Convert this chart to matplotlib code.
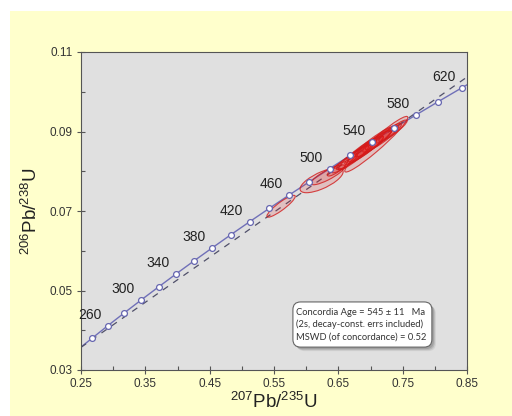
import numpy as np
import matplotlib
matplotlib.use("Agg")
import matplotlib.pyplot as plt
from matplotlib.patches import Ellipse, Rectangle, FancyBboxPatch

plt.rcParams['font.family'] = ['Liberation Sans', 'DejaVu Sans']
plt.rcParams['mathtext.fontset'] = 'custom'
plt.rcParams['mathtext.rm'] = 'Liberation Sans'
plt.rcParams['mathtext.it'] = 'Liberation Sans'

# Concordia ages (Ma) and their ratios
ages = [240, 260, 280, 300, 320, 340, 360, 380, 400, 420, 440, 460, 480, 500,
        520, 540, 560, 580, 600, 620]
pb207_u235 = [0.2667, 0.2918, 0.3175, 0.3437, 0.3705, 0.3977, 0.4255, 0.4539,
              0.4828, 0.5123, 0.5424, 0.5731, 0.6044, 0.6363, 0.6688, 0.7020,
              0.7359, 0.7704, 0.8056, 0.8416]
pb206_u238 = [0.03793, 0.04116, 0.04439, 0.04764, 0.05089, 0.05416, 0.05743,
              0.06072, 0.06402, 0.06732, 0.07064, 0.07397, 0.07730, 0.08065,
              0.08401, 0.08738, 0.09076, 0.09414, 0.09754, 0.10096]
# curve ends at the axis edges
curve_x_ends = [0.25, 0.85]
curve_y_ends = [0.03577, 0.10175]
label_ages = [260, 300, 340, 380, 420, 460, 500, 540, 580, 620]

# dashed reference line
dash_x = [0.25, 0.85]
dash_y = [0.0357, 0.1037]

# data-point error ellipses
ell_x = [0.561, 0.624, 0.634, 0.648, 0.660, 0.672, 0.683, 0.690, 0.698, 0.705,
         0.712, 0.718, 0.709, 0.726, 0.735, 0.680, 0.700]
ell_y = [0.0712, 0.0777, 0.0791, 0.0806, 0.0820, 0.0834, 0.0846, 0.0853, 0.0862,
         0.0870, 0.0878, 0.0884, 0.0868, 0.0893, 0.0902, 0.0843, 0.0866]
ell_sx = [0.022, 0.0335, 0.0265, 0.015, 0.020, 0.025, 0.018, 0.030, 0.022, 0.028,
          0.020, 0.030, 0.049, 0.018, 0.022, 0.030, 0.036]
ell_sy = [0.00275, 0.0031, 0.0025, 0.0018, 0.0024, 0.0030, 0.0022, 0.0036, 0.0026,
          0.0034, 0.0024, 0.0036, 0.0070, 0.0022, 0.0027, 0.0040, 0.0046]
ell_rho = [0.90, 0.70, 0.85, 0.85, 0.90, 0.92, 0.90, 0.93, 0.90, 0.93, 0.90, 0.93,
           0.96, 0.90, 0.92, 0.94, 0.95]

box_lines = ["Concordia Age = 545 \u00b1 11   Ma",
             "(2s, decay-const. errs included)",
             "MSWD (of concordance) = 0.52"]

fig = plt.figure(figsize=(5.12, 4.16), dpi=100, facecolor='white')
fig.patches.append(Rectangle((10/512, 0), 1 - 10/512, (416-11)/416,
                             transform=fig.transFigure, facecolor='#FFFFCC',
                             edgecolor='none', zorder=-10))
ax = fig.add_axes([81/512, 46/416, 386/512, 318/416])
ax.set_zorder(1)
ax.set_facecolor('#E0E0E0')
ax.set_xlim(0.25, 0.85)
ax.set_ylim(0.03, 0.11)

# ellipses
for x, y, sx, sy, r in zip(ell_x, ell_y, ell_sx, ell_sy, ell_rho):
    cov = np.array([[sx*sx, r*sx*sy], [r*sx*sy, sy*sy]])
    vals, vecs = np.linalg.eigh(cov)
    ang = np.degrees(np.arctan2(vecs[1, 1], vecs[0, 1]))
    e = Ellipse((x, y), 2*np.sqrt(vals[1]), 2*np.sqrt(vals[0]), angle=ang,
                facecolor=(0.9, 0.1, 0.1, 0.16), edgecolor=(0.82, 0.1, 0.1, 0.8),
                linewidth=0.8, zorder=3)
    ax.add_patch(e)

cx = [curve_x_ends[0]] + pb207_u235 + [curve_x_ends[1]]
cy = [curve_y_ends[0]] + pb206_u238 + [curve_y_ends[1]]
ax.plot(cx, cy, color='#7070B8', lw=1.0, zorder=2)
ax.plot(dash_x, dash_y, color='#50506A', lw=0.9, dashes=(5, 5), zorder=2)
ax.plot(pb207_u235, pb206_u238, 'o', ms=4.2, mfc='white', mec='#6666B0',
        mew=0.9, zorder=4, linestyle='none')

for a in label_ages:
    i = ages.index(a)
    ax.annotate(str(a), (pb207_u235[i], pb206_u238[i]), xytext=(-18, 11),
                textcoords='offset pixels', ha='center', va='center',
                fontsize=10, color='#222222', annotation_clip=False, zorder=5)

ax.set_xticks([0.25, 0.35, 0.45, 0.55, 0.65, 0.75, 0.85])
ax.set_xticklabels(['0.25', '0.35', '0.45', '0.55', '0.65', '0.75', '0.85'])
ax.set_xticks([0.30, 0.40, 0.50, 0.60, 0.70, 0.80], minor=True)
ax.set_yticks([0.03, 0.05, 0.07, 0.09, 0.11])
ax.set_yticklabels(['0.03', '0.05', '0.07', '0.09', '0.11'])
ax.set_yticks([0.04, 0.06, 0.08, 0.10], minor=True)
ax.tick_params(which='major', direction='inout', length=6, width=0.8,
               color='#555555', labelsize=8.5, labelcolor='#333333', pad=3)
ax.tick_params(which='minor', direction='in', length=3, width=0.8, color='#555555')
for s in ax.spines.values():
    s.set_color('#555555')
    s.set_linewidth(0.8)

ax.set_xlabel(r'$\mathregular{^{207}Pb/^{235}U}$', fontsize=13.5, color='#222222',
              labelpad=1)
ax.set_ylabel(r'$\mathregular{^{206}Pb/^{238}U}$', fontsize=13.5, color='#222222',
              labelpad=6)

# text box with shadow
bx, by, bw, bh = 0.549, 0.072, 0.360, 0.142
asp = 386/318
for k, al in [(4, 0.15), (3, 0.25), (2, 0.35)]:
    sh = FancyBboxPatch((bx + k/386, by - k/318), bw, bh,
                        boxstyle="round,pad=0,rounding_size=0.02",
                        mutation_aspect=asp, transform=ax.transAxes,
                        facecolor='#777777', edgecolor='none', alpha=al, zorder=6)
    ax.add_patch(sh)
box = FancyBboxPatch((bx, by), bw, bh, boxstyle="round,pad=0,rounding_size=0.02",
                     mutation_aspect=asp, transform=ax.transAxes,
                     facecolor='white', edgecolor='#666666', lw=0.8, zorder=7)
ax.add_patch(box)
for t, yy in zip(box_lines, [0.181, 0.143, 0.103]):
    ax.text(0.558, yy, t, transform=ax.transAxes, ha='left', va='center',
            fontsize=6.75, family=['Lato', 'DejaVu Sans'], color='#333333', zorder=8)

fig.savefig('out.png', dpi=100, facecolor=fig.get_facecolor())
